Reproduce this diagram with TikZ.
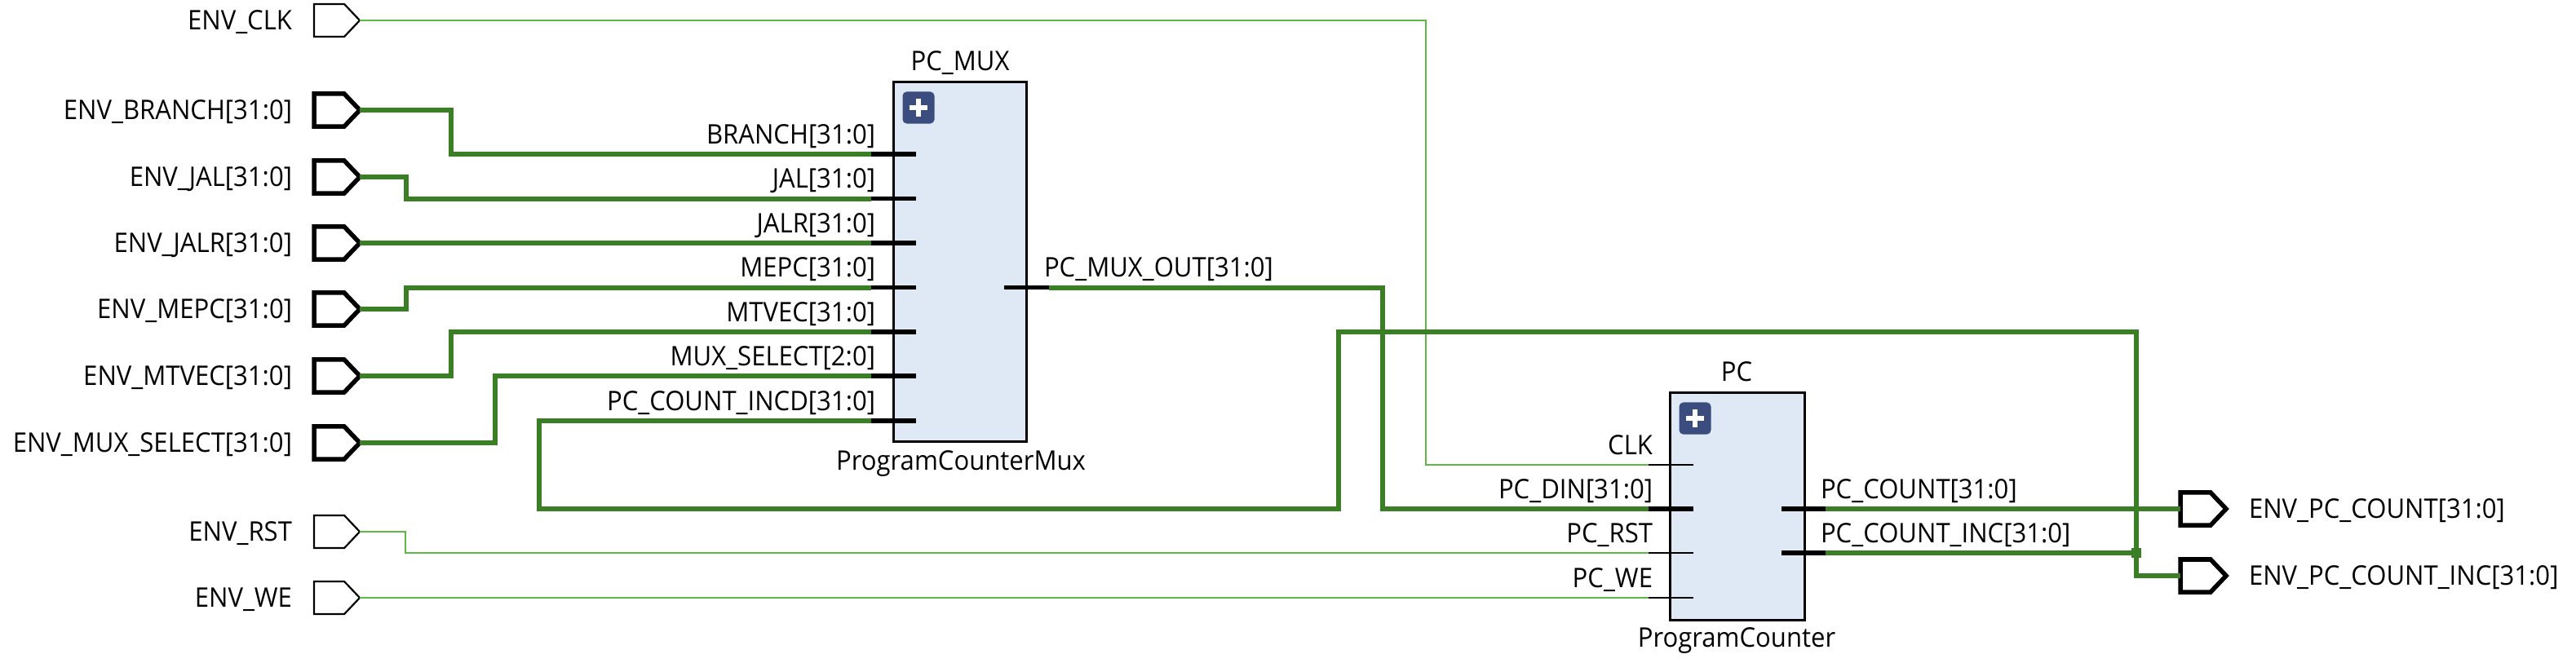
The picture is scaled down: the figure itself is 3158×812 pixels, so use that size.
\documentclass[tikz,border=0pt]{standalone}
\usepackage{fontspec}
\setmainfont[FakeStretch=0.94]{Open Sans}
\usetikzlibrary{shapes.symbols}
\definecolor{buscol}{HTML}{3A7F25}
\definecolor{netcol}{HTML}{5DB844}
\definecolor{blockcol}{HTML}{DFE8F5}
\definecolor{pluscol}{HTML}{3B4C7E}

\tikzset{
	lbl/.style={font=\fontsize{9.4}{11}\selectfont,inner sep=0pt,outer sep=0pt,text=black},
	port/.style={shape=signal,signal from=nowhere,signal pointer angle=93,draw=black,fill=white,
		minimum width=0.56cm,minimum height=0.4cm,inner sep=0pt,outer sep=0pt,anchor=west},
	bus/.style={draw=buscol,line width=0.06cm},
	net/.style={draw=netcol,line width=0.028cm},
	busstub/.style={draw=black,line width=0.055cm},
	netstub/.style={draw=black,line width=0.025cm},
	block/.style={draw=black,fill=blockcol,line width=0.03cm,inner sep=0pt,outer sep=0pt},
	plusicon/.style={fill=pluscol,rounded corners=0.05cm,minimum size=0.39cm,inner sep=0pt,outer sep=0pt}
}

\begin{document}
\begin{tikzpicture}[x=0.01cm,y=-0.01cm]
	\useasboundingbox (0,0) rectangle (3158,812);
	
	% blocks
	\node[block,minimum width=1.635cm,minimum height=4.415cm] (mux) at (1177,321) {};
	\node[block,minimum width=1.64cm,minimum height=2.78cm] (pc) at (2130,621) {};
	\node[lbl,anchor=base] (muxname) at (1177,86) {PC\_MUX};
	\node[lbl,anchor=base] (muxtype) at (1178,576) {ProgramCounterMux};
	\node[lbl,anchor=base] (pcname) at (2129,467) {PC};
	\node[lbl,anchor=base] (pctype) at (2129,793) {ProgramCounter};
	
	\foreach \nm/\x/\y in {muxplus/1126/132,pcplus/2078/513} {
		\node[plusicon] (\nm) at (\x,\y) {};
		\fill[white] (\x-11,\y-3) rectangle (\x+11,\y+3);
		\fill[white] (\x-3,\y-11) rectangle (\x+3,\y+11);
	}
	
	% ports
	\foreach \nm/\txt/\y in {envbranch/ENV\_BRANCH[31:0]/135,envjal/ENV\_JAL[31:0]/217,envjalr/ENV\_JALR[31:0]/298,envmepc/ENV\_MEPC[31:0]/379,envmtvec/ENV\_MTVEC[31:0]/461,envsel/ENV\_MUX\_SELECT[31:0]/543} {
		\node[port,line width=0.055cm] (\nm) at (385,\y) {};
		\node[lbl,anchor=base east] (\nm lbl) at (358,\y+11) {\txt};
	}
	\foreach \nm/\txt/\y in {envclk/ENV\_CLK/25,envrst/ENV\_RST/652,envwe/ENV\_WE/733} {
		\node[port,line width=0.022cm] (\nm) at (385,\y) {};
		\node[lbl,anchor=base east] (\nm lbl) at (358,\y+11) {\txt};
	}
	\foreach \nm/\txt/\y in {envcount/ENV\_PC\_COUNT[31:0]/624,envinc/ENV\_PC\_COUNT\_INC[31:0]/706} {
		\node[port,line width=0.055cm] (\nm) at (2673,\y) {};
		\node[lbl,anchor=base west] (\nm lbl) at (2757,\y+11) {\txt};
	}
	
	% pin ends
	\foreach \nm/\txt/\y in {branch/BRANCH[31:0]/189,jal/JAL[31:0]/243.5,jalr/JALR[31:0]/298,mepc/MEPC[31:0]/352.5,mtvec/MTVEC[31:0]/407,sel/MUX\_SELECT[2:0]/461,incd/PC\_COUNT\_INCD[31:0]/516} {
		\coordinate (\nm) at (1068,\y);
		\draw[busstub] (\nm) -- ++(55,0);
		\node[lbl,anchor=base east] (\nm lbl) at (1073,\y-13) {\txt};
	}
	\coordinate (muxout) at (1286,352.5);
	\draw[busstub] (muxout) -- ++(-55,0);
	\node[lbl,anchor=base west] (muxout lbl) at (1280,339.5) {PC\_MUX\_OUT[31:0]};
	
	\foreach \nm/\txt/\y in {clk/CLK/570,rst/PC\_RST/678,we/PC\_WE/733} {
		\coordinate (\nm) at (2020.5,\y);
		\draw[netstub] (\nm) -- ++(55,0);
		\node[lbl,anchor=base east] (\nm lbl) at (2026,\y-13) {\txt};
	}
	\coordinate (din) at (2020.5,624);
	\draw[busstub] (din) -- ++(55,0);
	\node[lbl,anchor=base east] (din lbl) at (2026,611) {PC\_DIN[31:0]};
	
	\foreach \nm/\txt/\y in {count/PC\_COUNT[31:0]/624,inc/PC\_COUNT\_INC[31:0]/678} {
		\coordinate (\nm) at (2237.5,\y);
		\draw[busstub] (\nm) -- ++(-54,0);
		\node[lbl,anchor=base west] (\nm lbl) at (2232,\y-13) {\txt};
	}
	
	% wires
	\draw[net] (envclk.east) -- (1748,25) -- (1748,570) -- (clk);
	\draw[net] (envrst.east) -- (497,652) -- (497,678) -- (rst);
	\draw[net] (envwe.east) -- (we);
	
	\draw[bus] (envbranch.east) -- (553,135) -- (553,189) -- (branch);
	\draw[bus] (envjal.east) -- (498,217) -- (498,243.5) -- (jal);
	\draw[bus] (envjalr.east) -- (jalr);
	\draw[bus] (envmepc.east) -- (498,379) -- (498,352.5) -- (mepc);
	\draw[bus] (envmtvec.east) -- (553,461) -- (553,407) -- (mtvec);
	\draw[bus] (envsel.east) -- (607,543) -- (607,461) -- (sel);
	\draw[bus] (muxout) -- (1695,352.5) -- (1695,624) -- (din);
	\draw[bus] (count) -- (envcount.west);
	\draw[bus] (inc) -- (2619,678);
	\draw[bus] (envinc.west) -- (2619,706) -- (2619,407) -- (1641,407) -- (1641,624) -- (661,624) -- (661,516) -- (incd);
	\fill[buscol] (2613,672) rectangle (2625,684);
\end{tikzpicture}
\end{document}
